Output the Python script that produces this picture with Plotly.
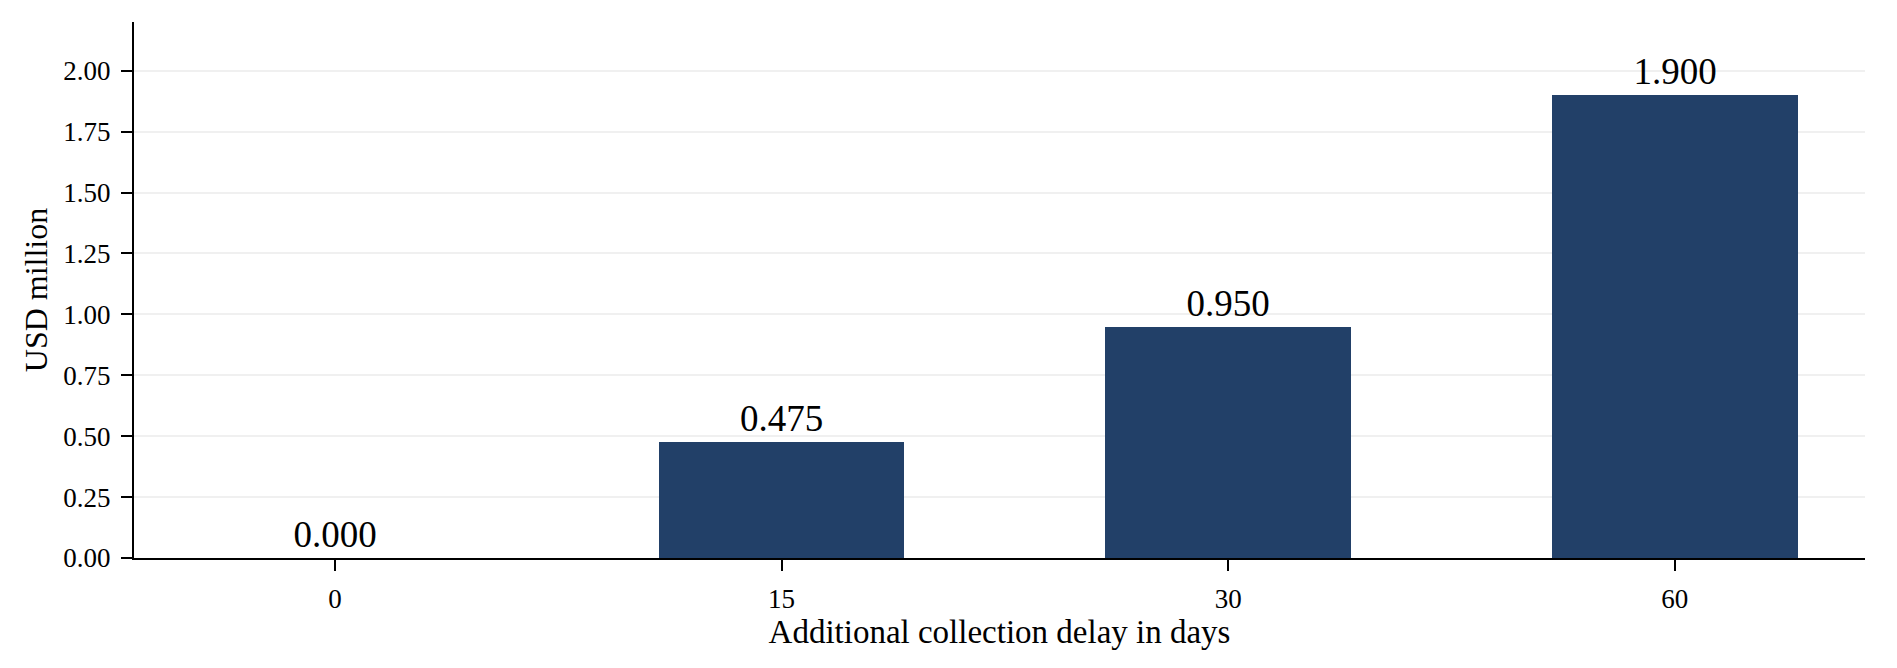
import plotly.graph_objects as go

delay_days = ["0", "15", "30", "60"]
usd_million = [0.000, 0.475, 0.950, 1.900]
y_ticks = [0.00, 0.25, 0.50, 0.75, 1.00, 1.25, 1.50, 1.75, 2.00]

bar_color = "#224068"
font_family = "Liberation Serif, Times New Roman, serif"

fig = go.Figure()
fig.add_traces(
    go.Bar(
        x=delay_days,
        y=usd_million,
        width=0.55,
        marker=dict(color=bar_color, line=dict(width=0)),
        texttemplate="%{y:.3f}",
        textposition="outside",
        textfont=dict(size=37, color="black", family=font_family),
        cliponaxis=False,
        showlegend=False,
    )
)
fig.layout.update(
    {
        "width": 1897,
        "height": 668,
        "margin": dict(l=126, r=40, t=14, b=118),
        "plot_bgcolor": "white",
        "paper_bgcolor": "white",
        "font": dict(family=font_family, size=27, color="black"),
        "bargap": 0,
    }
)
fig.layout.xaxis.update(
    {
        "title": dict(text="Additional collection delay in days", font=dict(size=33), standoff=2),
        "type": "category",
        "range": [-0.45, 3.426],
        "showline": True,
        "linecolor": "black",
        "linewidth": 2,
        "ticks": "outside",
        "ticklen": 11,
        "tickwidth": 2,
        "tickcolor": "black",
        "showgrid": False,
        "ticklabelstandoff": 5,
    }
)
fig.layout.yaxis.update(
    {
        "title": dict(text="USD million", font=dict(size=32), standoff=6),
        "range": [0, 2.2],
        "tickvals": y_ticks,
        "tickformat": ".2f",
        "showline": True,
        "linecolor": "black",
        "linewidth": 2,
        "ticks": "outside",
        "ticklen": 11,
        "tickwidth": 2,
        "tickcolor": "black",
        "showgrid": True,
        "gridcolor": "#f0f0f0",
        "gridwidth": 2,
        "zeroline": False,
        "ticklabelstandoff": 5,
    }
)
fig.write_html("out.html")
